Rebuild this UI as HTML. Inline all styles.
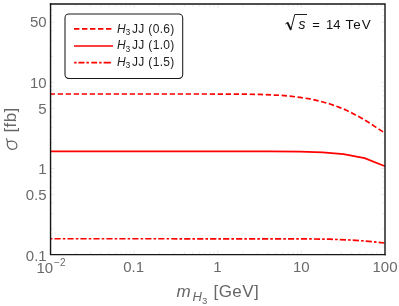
<!DOCTYPE html>
<html>
<head>
<meta charset="utf-8">
<title>Plot</title>
<style>
html,body{margin:0;padding:0;background:#fff;}
body{width:399px;height:306px;overflow:hidden;}
svg{display:block;}
text{font-family:"Liberation Sans",sans-serif;}
.gs{filter:grayscale(1);}
.tl{fill:#6a6a6a;font-size:15px;}
.lg{fill:#222;font-size:12px;}
</style>
</head>
<body>
<svg width="399" height="306" viewBox="0 0 399 306">
<rect x="0" y="0" width="399" height="306" fill="#fff"/>

<!-- ticks (very faint) -->
<g stroke="#dadada" stroke-width="0.6" fill="none">
  <path d="M51.2 194.4h3.4M384.3 194.4h-3.4M51.2 168.5h3.4M384.3 168.5h-3.4M51.2 108.3h3.4M384.3 108.3h-3.4M51.2 82.4h3.4M384.3 82.4h-3.4M51.2 22.2h3.4M384.3 22.2h-3.4"/>
  <path d="M51.2 228.7h1.9M384.3 228.7h-1.9M51.2 213.5h1.9M384.3 213.5h-1.9M51.2 202.8h1.9M384.3 202.8h-1.9M51.2 187.6h1.9M384.3 187.6h-1.9M51.2 181.8h1.9M384.3 181.8h-1.9M51.2 176.8h1.9M384.3 176.8h-1.9M51.2 172.4h1.9M384.3 172.4h-1.9M51.2 142.6h1.9M384.3 142.6h-1.9M51.2 127.4h1.9M384.3 127.4h-1.9M51.2 116.7h1.9M384.3 116.7h-1.9M51.2 101.5h1.9M384.3 101.5h-1.9M51.2 95.7h1.9M384.3 95.7h-1.9M51.2 90.7h1.9M384.3 90.7h-1.9M51.2 86.3h1.9M384.3 86.3h-1.9M51.2 56.5h1.9M384.3 56.5h-1.9M51.2 41.3h1.9M384.3 41.3h-1.9M51.2 30.6h1.9M384.3 30.6h-1.9M51.2 15.4h1.9M384.3 15.4h-1.9M51.2 9.6h1.9M384.3 9.6h-1.9"/>
  <path d="M134.1 253.9v-3.4M134.1 4.6v3.4M217.8 253.9v-3.4M217.8 4.6v3.4M301.3 253.9v-3.4M301.3 4.6v3.4"/>
  <path d="M75.7 253.9v-1.9M75.7 4.6v1.9M90.4 253.9v-1.9M90.4 4.6v1.9M100.9 253.9v-1.9M100.9 4.6v1.9M109.0 253.9v-1.9M109.0 4.6v1.9M115.6 253.9v-1.9M115.6 4.6v1.9M121.2 253.9v-1.9M121.2 4.6v1.9M126.0 253.9v-1.9M126.0 4.6v1.9M130.3 253.9v-1.9M130.3 4.6v1.9M159.3 253.9v-1.9M159.3 4.6v1.9M174.0 253.9v-1.9M174.0 4.6v1.9M184.5 253.9v-1.9M184.5 4.6v1.9M192.6 253.9v-1.9M192.6 4.6v1.9M199.2 253.9v-1.9M199.2 4.6v1.9M204.8 253.9v-1.9M204.8 4.6v1.9M209.6 253.9v-1.9M209.6 4.6v1.9M213.9 253.9v-1.9M213.9 4.6v1.9M242.9 253.9v-1.9M242.9 4.6v1.9M257.6 253.9v-1.9M257.6 4.6v1.9M268.1 253.9v-1.9M268.1 4.6v1.9M276.2 253.9v-1.9M276.2 4.6v1.9M282.8 253.9v-1.9M282.8 4.6v1.9M288.4 253.9v-1.9M288.4 4.6v1.9M293.2 253.9v-1.9M293.2 4.6v1.9M297.5 253.9v-1.9M297.5 4.6v1.9M326.5 253.9v-1.9M326.5 4.6v1.9M341.2 253.9v-1.9M341.2 4.6v1.9M351.7 253.9v-1.9M351.7 4.6v1.9M359.8 253.9v-1.9M359.8 4.6v1.9M366.4 253.9v-1.9M366.4 4.6v1.9M372.0 253.9v-1.9M372.0 4.6v1.9M376.8 253.9v-1.9M376.8 4.6v1.9M381.1 253.9v-1.9M381.1 4.6v1.9"/>
</g>

<!-- curves -->
<g fill="none" stroke="#ff0000" stroke-width="1.7" stroke-linejoin="round">
  <path id="c1" stroke-dasharray="5.35 2.65" stroke-dashoffset="0.8" d="M50.5 94 L200 94 L240 94.1 L260 94.45 L280 95.3 L290 96.15 L300 97.4 L310 98.9 L320 101.2 L330 104 L340 107.6 L345 109.6 L350 112 L355 114.7 L360 117.3 L365 120.3 L370 123.3 L375 126.6 L380 129.9 L384.4 132.8"/>
  <path id="c2" d="M50.5 151.3 L270 151.35 L300 151.6 L322.6 152.3 L343.5 154.15 L364.6 158.1 L385 166.2"/>
  <path id="c3" stroke-dasharray="6.22 2.07 2.6 2.08" stroke-dashoffset="9" d="M50.5 238.75 L300 238.8 L330 239.2 L350 240 L365 241 L384.4 243"/>
</g>

<!-- frame -->
<g fill="none" stroke="#151515" stroke-width="1.4">
  <path d="M50.55 3.25 V254.6 H385.7"/>
  <path d="M49.85 3.95 H385 V255.3"/>
</g>

<!-- legend -->
<rect x="65" y="14" width="117.7" height="64.4" rx="3.8" ry="3.8" fill="#fff" stroke="#1a1a1a" stroke-width="1.05"/>
<g fill="none" stroke="#ff0000" stroke-width="1.7">
  <path d="M74 28.8 H112.3" stroke-dasharray="5.4 2.6"/>
  <path d="M74 46 H113"/>
  <path d="M74.2 62.6 H110.9" stroke-dasharray="2.4 1.8 6.1 1.9 2.5 2.4 5.9 2 2.4 2 7.3 0"/>
</g>
<g class="lg gs">
  <text x="116.9" y="32.8"><tspan font-style="italic">H</tspan><tspan font-size="8.5px" dy="2.6">3</tspan><tspan dy="-2.6" dx="1.6" letter-spacing="0.35">JJ (0.6)</tspan></text>
  <text x="116.9" y="49.3"><tspan font-style="italic">H</tspan><tspan font-size="8.5px" dy="2.6">3</tspan><tspan dy="-2.6" dx="1.6" letter-spacing="0.35">JJ (1.0)</tspan></text>
  <text x="116.9" y="65.8"><tspan font-style="italic">H</tspan><tspan font-size="8.5px" dy="2.6">3</tspan><tspan dy="-2.6" dx="1.6" letter-spacing="0.35">JJ (1.5)</tspan></text>
</g>

<!-- sqrt s -->
<g fill="#111" class="gs">
  <path d="M285.3 24 L287.7 22.4" fill="none" stroke="#111" stroke-width="0.9"/>
  <path d="M287.4 22.4 L290.8 29.7" fill="none" stroke="#111" stroke-width="1.9"/>
  <path d="M290.7 30.3 L294.75 14.5 H307" fill="none" stroke="#111" stroke-width="0.95" stroke-linejoin="miter"/>
  <text x="298.4" y="28.7" font-size="14px" font-style="italic">s</text>
  <text x="312.3" y="28.7" font-size="13px">=</text>
  <text x="326" y="28.6" font-size="13px">14</text>
  <text x="345.6" y="28.6" font-size="13.4px" letter-spacing="1.05">TeV</text>
</g>

<!-- y tick labels -->
<g class="tl gs" text-anchor="end">
  <text x="46.6" y="26.8">50</text>
  <text x="46.6" y="87.7">10</text>
  <text x="46.6" y="113.5">5</text>
  <text x="46.6" y="174.4">1</text>
  <text x="46.6" y="200.4">0.5</text>
  <text x="46.7" y="260.6">0.1</text>
</g>
<!-- x tick labels -->
<g class="tl gs" text-anchor="middle">
  <text x="36.4" y="272.6" text-anchor="start">10<tspan font-size="10px" dy="-6.2" dx="1">−2</tspan></text>
  <text x="133.6" y="272.2">0.1</text>
  <text x="217.5" y="272.2">1</text>
  <text x="301.3" y="272.2">10</text>
  <text x="385" y="272.2">100</text>
</g>

<!-- x label -->
<g fill="#666" class="gs">
  <text x="176.4" y="296.7" font-size="17px" font-style="italic">m</text>
  <text x="192.4" y="301.4" font-size="13px" font-style="italic">H</text>
  <text x="202" y="304" font-size="9.5px">3</text>
  <text x="213.6" y="296.7" font-size="17px" letter-spacing="0.4">[GeV]</text>
</g>

<!-- y label -->
<path d="M6.5 138.7 L7.5 142.1 C7.1 143.4 7.2 144.8 7.6 145.8 C8.3 147.8 10.1 149.4 12.6 149.4 C15.1 149.4 16.9 147.9 16.9 145.6 C16.9 143.2 14.8 141.1 11.8 141.1 C10 141.1 8.6 141.4 7.5 142.1" fill="none" stroke="#5e5e5e" stroke-width="1.15" stroke-linecap="round" stroke-linejoin="round"/>
<g fill="#666" class="gs" transform="translate(16.4 152.5) rotate(-90)">
  <text x="19.9" y="0" font-size="17px" letter-spacing="0.4">[fb]</text>
</g>
</svg>
</body>
</html>
